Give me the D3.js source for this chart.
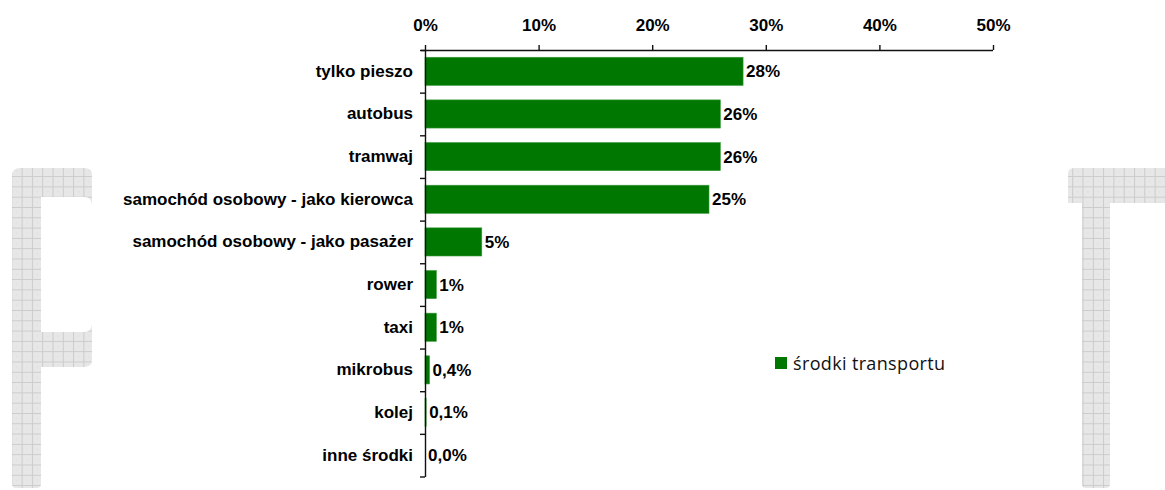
<!DOCTYPE html>
<html>
<head>
<meta charset="utf-8">
<script src="https://cdn.jsdelivr.net/npm/d3@7"></script>
<style>
  html, body { margin: 0; padding: 0; background: #fff; }
  svg { display: block; }
  .lbl { font-family: "Liberation Sans", Arial, sans-serif; font-weight: bold; font-size: 17px; fill: #000; }
</style>
</head>
<body>
<script>
// Modal split: share of trips by means of transport (%)
const categories = [
  "tylko pieszo",
  "autobus",
  "tramwaj",
  "samochód osobowy - jako kierowca",
  "samochód osobowy - jako pasażer",
  "rower",
  "taxi",
  "mikrobus",
  "kolej",
  "inne środki"
];
const shares = [28, 26, 26, 25, 5, 1, 1, 0.4, 0.1, 0.0];
const xTicks = [0, 10, 20, 30, 40, 50];
const seriesName = "środki transportu";

const W = 1165, H = 490;
const svg = d3.select("body").append("svg").attr("width", W).attr("height", H);

// Background lettering with a squared-paper texture
const defs = svg.append("defs");
const pat = defs.append("pattern")
  .attr("id", "grid").attr("patternUnits", "userSpaceOnUse")
  .attr("width", 10.3).attr("height", 10.3).attr("x", 1).attr("y", 1);
pat.append("rect").attr("width", 10.3).attr("height", 10.3).attr("fill", "#e7e7e7");
pat.append("rect").attr("x", 5).attr("y", 5).attr("width", 1).attr("height", 1).attr("fill", "#dadada");
pat.append("path").attr("d", "M0,0.5H10.3M0.5,0V10.3")
  .attr("stroke", "#cbcbcb").attr("stroke-width", 1).attr("fill", "none");

const bg = svg.append("g").attr("class", "letters");
// "P" (its bowl runs under the white chart panel)
bg.append("path")
  .attr("fill", "url(#grid)").attr("fill-rule", "evenodd")
  .attr("d",
    "M12,176 Q12,168 20,168 L84,168 Q92,168 92,174 L92,360 Q92,367 84,367 L41,367 L41,484 Q41,488 37,488 L16,488 Q12,488 12,484 Z " +
    "M41,197 L84,197 Q92,197 92,206 L92,323 Q92,332 84,332 L41,332 Z");
// "T"
bg.append("path")
  .attr("fill", "url(#grid)")
  .attr("d",
    "M1068,174 Q1068,168 1074,168 L1165,168 L1165,203 L1110,203 L1110,484 Q1110,488 1106,488 L1086,488 Q1082,488 1082,484 L1082,203 L1068,203 Z");

// Scales
const x = d3.scaleLinear().domain([0, 50]).range([425, 993]);
const yTop = 50, yBot = 476.5;
const y = d3.scaleBand().domain(categories).range([yTop, yBot])
  .paddingInner(0.34).paddingOuter(0.17);
const yEdge = d3.scaleLinear().domain([0, categories.length]).range([yTop, yBot]);

// Bars
svg.append("g").selectAll("rect")
  .data(shares)
  .join("rect")
  .attr("x", x(0))
  .attr("y", (d, i) => y(categories[i]))
  .attr("width", d => x(d) - x(0))
  .attr("height", y.bandwidth())
  .attr("fill", "#007700")
  .attr("stroke", "#3a9a3a").attr("stroke-width", 0.6);

// Value labels: whole percents, one decimal (with comma) below 1%
const fmt = v => v >= 1 ? d3.format(".0f")(v) + "%" : d3.format(".1f")(v).replace(".", ",") + "%";
svg.append("g").selectAll("text")
  .data(shares)
  .join("text")
  .attr("class", "lbl")
  .attr("x", d => x(d) + 3)
  .attr("y", (d, i) => y(categories[i]) + y.bandwidth() / 2)
  .attr("dy", "0.35em")
  .text(fmt);

// Top value axis
const gx = svg.append("g").attr("transform", `translate(0,${yTop})`)
  .call(d3.axisTop(x).tickValues(xTicks).tickFormat(d => d + "%").tickSize(5).tickSizeOuter(0).tickPadding(14));
gx.selectAll("text").attr("class", "lbl");
gx.selectAll("line, path").attr("stroke", "#111").attr("stroke-width", 1.4);
gx.select(".domain").attr("d", `M${x(0) - 4},0.5H${x(50)}`);

// Left category axis: ticks between categories
const gEdge = svg.append("g").attr("transform", `translate(${x(0)},0)`)
  .call(d3.axisLeft(yEdge).ticks(categories.length).tickSize(5).tickSizeOuter(0).tickFormat(""));
gEdge.selectAll("line, path").attr("stroke", "#111").attr("stroke-width", 1.4);

const gy = svg.append("g").attr("transform", `translate(${x(0)},0)`)
  .call(d3.axisLeft(y).tickSize(0).tickPadding(12));
gy.select(".domain").remove();
gy.selectAll("text").attr("class", "lbl");

// Legend
const lg = svg.append("g").attr("transform", "translate(775,357)");
lg.append("rect").attr("width", 12).attr("height", 12).attr("fill", "#007700");
lg.append("text").attr("x", 18).attr("y", 13)
  .style("font-family", "'Open Sans', sans-serif").style("font-size", "18px")
  .style("letter-spacing", "0.35px").attr("fill", "#111")
  .text(seriesName);
</script>
</body>
</html>
